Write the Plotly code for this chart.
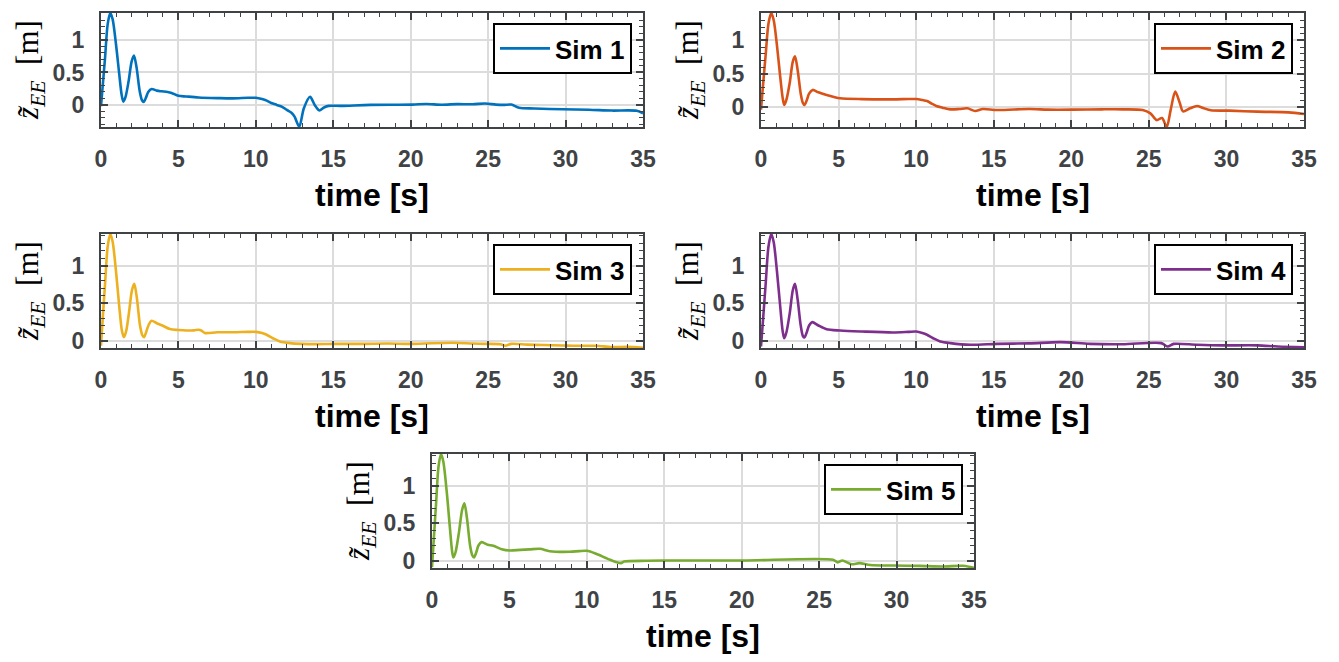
import plotly.graph_objects as go

# ---------------- data ----------------
names = ["Sim 1", "Sim 2", "Sim 3", "Sim 4", "Sim 5"]
colors = ["#0072BD", "#D95319", "#EDB120", "#7E2F8E", "#77AC30"]

t1 = [0, 0.13, 0.26, 0.43, 0.6, 0.75, 0.97, 1.18, 1.33, 1.44, 1.58, 1.78, 1.98, 2.13, 2.3, 2.5, 2.65, 2.75,
      2.9, 3.05, 3.27, 3.6, 3.9, 4.3, 4.56, 5.0, 5.5, 6.3, 7.5, 8.5, 9.5, 10.0, 10.4, 10.7, 11.0, 11.35, 11.7,
      12.0, 12.3, 12.5, 12.8, 13.1, 13.5, 13.8, 14.1, 14.4, 14.7, 15.5, 17.4, 20.1, 21.0, 22.0, 23.0, 24.0,
      24.8, 25.5, 26.0, 26.5, 27.0, 28.0, 29.8, 31.5, 33.0, 34.6, 35.0]
z1 = [-0.02, 0.35, 0.72, 1.24, 1.415, 1.32, 0.93, 0.47, 0.16, 0.05, 0.12, 0.36, 0.67, 0.76, 0.57, 0.21, 0.07,
      0.045, 0.11, 0.2, 0.246, 0.22, 0.21, 0.2, 0.185, 0.14, 0.13, 0.115, 0.105, 0.1, 0.11, 0.11, 0.09, 0.066,
      0.03, 0.0, -0.03, -0.077, -0.12, -0.18, -0.335, -0.05, 0.125, 0.0, -0.085, -0.04, -0.015, -0.015, 0.0,
      0.005, 0.015, 0.003, 0.012, 0.01, 0.022, 0.005, 0.0, 0.005, -0.045, -0.055, -0.067, -0.075, -0.087,
      -0.09, -0.13]

t2 = [0, 0.14, 0.3, 0.48, 0.66, 0.82, 1.03, 1.24, 1.4, 1.5, 1.64, 1.85, 2.05, 2.19, 2.36, 2.56, 2.7, 2.8,
      2.95, 3.1, 3.33, 3.7, 4.23, 4.7, 5.1, 6.5, 8.5, 9.5, 10.0, 10.4, 10.7, 11.0, 11.3, 11.7, 12.2, 12.8,
      13.3, 13.8, 14.3, 15.2, 17.3, 18.5, 20.1, 22.0, 23.3, 24.6, 25.1, 25.5, 25.85, 26.15, 26.4, 26.7, 27.0,
      27.2, 27.65, 28.1, 28.5, 29.0, 30.2, 32.0, 34.0, 35.0]
z2 = [-0.04, 0.35, 0.78, 1.25, 1.41, 1.3, 0.92, 0.45, 0.13, 0.03, 0.11, 0.36, 0.68, 0.76, 0.56, 0.2, 0.06,
      0.03, 0.1, 0.2, 0.256, 0.22, 0.18, 0.15, 0.13, 0.118, 0.115, 0.12, 0.12, 0.105, 0.09, 0.05, 0.015,
      -0.01, -0.035, -0.03, -0.02, -0.06, -0.03, -0.045, -0.03, -0.04, -0.04, -0.035, -0.035, -0.045,
      -0.095, -0.196, -0.165, -0.3, -0.05, 0.23, 0.055, -0.065, -0.02, 0.015, -0.015, -0.05, -0.055,
      -0.07, -0.08, -0.105]

t3 = [0, 0.13, 0.26, 0.43, 0.6, 0.75, 0.97, 1.18, 1.35, 1.48, 1.62, 1.8, 2.0, 2.15, 2.32, 2.52, 2.67, 2.78,
      2.93, 3.08, 3.27, 3.6, 4.0, 4.45, 5.0, 5.5, 6.0, 6.3, 6.5, 6.7, 7.5, 8.54, 9.5, 10.0, 10.4, 10.7, 11.1,
      11.55, 12.2, 13.0, 13.9, 15.2, 16.9, 18.5, 20.1, 22.7, 24.0, 24.9, 25.8, 26.1, 26.5, 27.5, 28.5, 29.8,
      30.5, 31.4, 32.0, 33.0, 34.0, 35.0]
z3 = [-0.07, 0.35, 0.75, 1.25, 1.42, 1.32, 0.92, 0.45, 0.13, 0.045, 0.12, 0.36, 0.67, 0.756, 0.56, 0.2,
      0.07, 0.045, 0.12, 0.21, 0.263, 0.23, 0.196, 0.152, 0.14, 0.133, 0.135, 0.143, 0.13, 0.1, 0.11, 0.11,
      0.115, 0.115, 0.1, 0.076, 0.03, -0.013, -0.035, -0.045, -0.048, -0.045, -0.045, -0.04, -0.045, -0.03,
      -0.04, -0.045, -0.05, -0.07, -0.045, -0.055, -0.06, -0.066, -0.07, -0.07, -0.07, -0.088, -0.085,
      -0.097]

t4 = [0, 0.14, 0.3, 0.48, 0.66, 0.82, 1.03, 1.24, 1.4, 1.5, 1.64, 1.85, 2.05, 2.19, 2.36, 2.56, 2.7, 2.8,
      2.95, 3.1, 3.3, 3.7, 4.23, 5.1, 6.5, 8.5, 9.5, 10.0, 10.4, 10.7, 11.1, 11.55, 12.2, 13.5, 15.2, 17.3,
      19.3, 21.2, 23.3, 25.8, 26.2, 26.6, 28.1, 29.7, 32.0, 33.3, 35.0]
z4 = [-0.08, 0.3, 0.75, 1.25, 1.42, 1.31, 0.92, 0.45, 0.12, 0.03, 0.11, 0.36, 0.67, 0.756, 0.55, 0.2, 0.06,
      0.04, 0.11, 0.2, 0.245, 0.2, 0.15, 0.133, 0.12, 0.107, 0.115, 0.12, 0.1, 0.076, 0.03, -0.013, -0.035,
      -0.057, -0.045, -0.038, -0.022, -0.045, -0.05, -0.035, -0.08, -0.045, -0.057, -0.065, -0.065, -0.08,
      -0.09]

t5 = [0, 0.12, 0.26, 0.42, 0.58, 0.73, 0.95, 1.15, 1.3, 1.38, 1.52, 1.73, 1.94, 2.09, 2.26, 2.46, 2.6, 2.71,
      2.86, 3.0, 3.2, 3.6, 3.96, 4.5, 5.03, 5.7, 6.3, 6.97, 7.6, 8.9, 9.5, 10.0, 10.6, 11.5, 12.2, 12.4, 13.9,
      15.2, 20.1, 25.9, 26.2, 26.5, 27.1, 27.6, 28.3, 29.8, 31.5, 33.0, 34.3, 35.0]
z5 = [-0.09, 0.3, 0.75, 1.25, 1.42, 1.32, 0.92, 0.45, 0.12, 0.04, 0.11, 0.36, 0.67, 0.764, 0.56, 0.2, 0.07,
      0.04, 0.11, 0.2, 0.245, 0.21, 0.196, 0.15, 0.133, 0.142, 0.148, 0.156, 0.124, 0.116, 0.125, 0.129,
      0.089, 0.009, -0.035, -0.013, -0.004, 0.0, 0.0, 0.01, -0.025, 0.0, -0.05, -0.035, -0.06, -0.067,
      -0.072, -0.08, -0.07, -0.098]

times = [t1, t2, t3, t4, t5]
values = [z1, z2, z3, z4, z5]
y_ranges = [[-0.34, 1.415], [-0.3, 1.41], [-0.1, 1.42], [-0.1, 1.42], [-0.1, 1.42]]
x_range = [0, 35]
x_title = "time [s]"
y_title = "<i>z̃</i><sub><i>EE</i></sub>  [m]"

# ---------------- layout geometry ----------------
W, H = 1339, 662
# (left, right, top, bottom) in pixels
boxes = [(101, 643, 13, 127), (761, 1304, 13, 127),
         (101, 643, 234, 348), (761, 1304, 234, 348),
         (432, 974, 454, 568)]

AX = "#404346"
TICKFONT = dict(family="Liberation Sans, Arial, sans-serif", size=23, color=AX, weight="bold")

fig = go.Figure()
layout = dict(width=W, height=H, margin=dict(l=0, r=0, t=0, b=0, autoexpand=False),
              paper_bgcolor="white", plot_bgcolor="white", showlegend=True)
annotations = []

for i in range(5):
    n = "" if i == 0 else str(i + 1)
    L, R, T, B = boxes[i]
    xd = [L / W, R / W]
    yd = [1 - B / H, 1 - T / H]
    leg = "legend" + n
    fig.add_trace(go.Scatter(
        x=times[i], y=values[i], mode="lines", name=names[i],
        line=dict(color=colors[i], width=2.6, shape="spline", smoothing=0.8),
        xaxis="x" + n, yaxis="y" + n, legend=leg))
    common = dict(showline=True, linecolor=AX, linewidth=2, mirror="ticks",
                  ticks="inside", ticklen=7, tickwidth=1.5, tickcolor=AX,
                  showgrid=True, gridcolor="#dcdcdc", gridwidth=1.5,
                  zeroline=False, tickfont=TICKFONT, automargin=False)
    layout["xaxis" + n] = dict(domain=xd, anchor="y" + n, range=x_range, dtick=5, tick0=0,
                               minor=dict(ticks="inside", ticklen=4, dtick=1, tickcolor=AX,
                                          tickwidth=1.2, showgrid=False),
                               ticklabelstandoff=10, **common)
    layout["yaxis" + n] = dict(domain=yd, anchor="x" + n, range=y_ranges[i], dtick=0.5, tick0=0,
                               minor=dict(ticks="inside", ticklen=4, dtick=0.1, tickcolor=AX,
                                          tickwidth=1.2, showgrid=False),
                               ticklabelstandoff=10, **common)
    layout[leg] = dict(x=(R - 11) / W, y=1 - (T + 10) / H, xanchor="right", yanchor="top",
                       bgcolor="white", bordercolor="black", borderwidth=2, itemwidth=50,
                       font=dict(family="Liberation Sans, Arial, sans-serif", size=26,
                                 color="black", weight="bold"))
    annotations.append(dict(xref="paper", yref="paper", x=(L + R) / 2 / W, y=1 - (B + 68) / H,
                            xanchor="center", yanchor="middle", showarrow=False, text=x_title,
                            font=dict(family="Liberation Sans, Arial, sans-serif", size=32,
                                      color="black", weight="bold")))
    annotations.append(dict(xref="paper", yref="paper", x=(L - 71) / W, y=1 - (T + B) / 2 / H,
                            xanchor="center", yanchor="middle", showarrow=False, text=y_title,
                            textangle=-90,
                            font=dict(family="Liberation Serif, Times New Roman, serif", size=31,
                                      color="black")))

layout["annotations"] = annotations
fig.update_layout(**layout)
fig.write_html("out.html", config={"displayModeBar": False},
               post_script="document.body.style.margin='0px';")
